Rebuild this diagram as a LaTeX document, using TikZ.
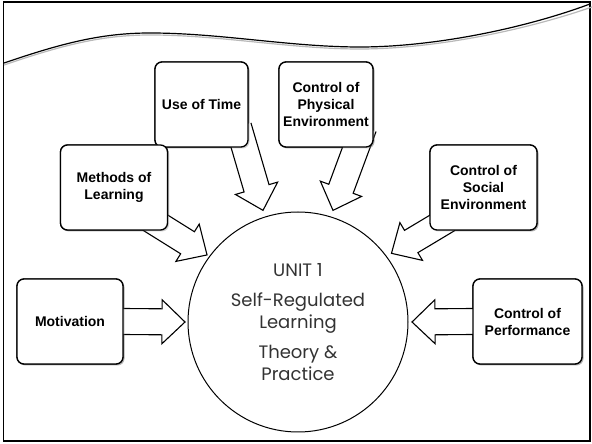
\documentclass[tikz,border=0pt]{standalone}
\usepackage{fontspec}
\setmainfont{Liberation Sans}
\newfontfamily\unitfont{Poppins}
\usetikzlibrary{calc,shadows}

\tikzset{
  topic/.style={draw, line width=1.3pt, rounded corners=7pt, fill=white,
    align=center, inner sep=0pt, minimum height=85pt,
    font=\bfseries\fontsize{14}{17}\selectfont,
    drop shadow={shadow xshift=1.5pt, shadow yshift=-1.5pt, opacity=0.35}},
  fatarr/.style={draw, line width=1.1pt, fill=white, line join=miter},
  wave/.style={line width=1.2pt}
}

% fat outlined arrow from #1 (inside a box) to the tip #2
\newcommand{\fatarrow}[2]{%
  \coordinate (fa-a) at ($(#1)!-22pt!(#2)$);
  \coordinate (fa-s) at ($(#2)!23pt!(#1)$);
  \draw [fatarr] ($(fa-a)!13pt!90:(#2)$) -- ($(fa-s)!13pt!-90:(fa-a)$)
    -- ($(fa-s)!22pt!-90:(fa-a)$) -- (#2) -- ($(fa-s)!22pt!90:(fa-a)$)
    -- ($(fa-s)!13pt!90:(fa-a)$) -- ($(fa-a)!13pt!-90:(#2)$);
}

\begin{document}
\begin{tikzpicture}[x=1pt, y=1pt]
  \useasboundingbox (0,0) rectangle (592,444);
  \draw [line width=1.3pt] (3.5,3) rectangle (590,442);

  % slide banner
  \draw [wave, gray!55] (4,379) .. controls (60,398) and (100,409) .. (150,409)
    .. controls (220,409) and (290,395) .. (360,395)
    .. controls (430,395) and (520,412) .. (592,437);
  \draw [wave] (4,381) .. controls (60,400) and (100,411) .. (150,411)
    .. controls (220,411) and (290,397) .. (360,397)
    .. controls (430,397) and (520,414) .. (590,440);

  % centre
  \node [draw, circle, line width=1pt, minimum size=220pt, inner sep=0pt,
    align=center, text=black!80, font=\unitfont\fontsize{18}{22}\selectfont]
    (unit) at (298,122)
    {UNIT 1\\[8pt] Self-Regulated\\ Learning\\[8pt] Theory \&\\ Practice};

  \coordinate (tip-mot) at ($(unit.center)+(180:113)$);
  \coordinate (tip-meth) at ($(unit.center)+(143.6:113)$);
  \coordinate (tip-time) at ($(unit.center)+(107.4:117)$);
  \coordinate (tip-phys) at ($(unit.center)+(72.6:117)$);
  \coordinate (tip-soc) at ($(unit.center)+(36.3:116)$);
  \coordinate (tip-perf) at ($(unit.center)+(0:114)$);

  % boxes, placed first so the arrows can use their anchors
  \path (201.5,339.5) node [topic, minimum width=93pt] (time) {};
  \path (326,339.5) node [topic, minimum width=94pt] (phys) {};
  \path (114,256.5) node [topic, minimum width=107pt] (meth) {};
  \path (483.5,256.5) node [topic, minimum width=107pt] (soc) {};
  \path (70,122.5) node [topic, minimum width=106pt] (mot) {};
  \path (527.5,122.5) node [topic, minimum width=109pt] (perf) {};

  \fatarrow{mot.east}{tip-mot}
  \fatarrow{meth.south east}{tip-meth}
  \fatarrow{time.-45}{tip-time}
  \fatarrow{phys.-55}{tip-phys}
  \fatarrow{soc.south west}{tip-soc}
  \fatarrow{perf.west}{tip-perf}

  % boxes again on top of the arrow tails
  \node [topic, minimum width=93pt] at (time) {Use of Time};
  \node [topic, minimum width=94pt] at (phys) {Control of\\Physical\\Environment};
  \node [topic, minimum width=107pt] at (meth) {Methods of\\Learning};
  \node [topic, minimum width=107pt] at (soc) {Control of\\Social\\Environment};
  \node [topic, minimum width=106pt] at (mot) {Motivation};
  \node [topic, minimum width=109pt] at (perf) {Control of\\Performance};
\end{tikzpicture}
\end{document}
